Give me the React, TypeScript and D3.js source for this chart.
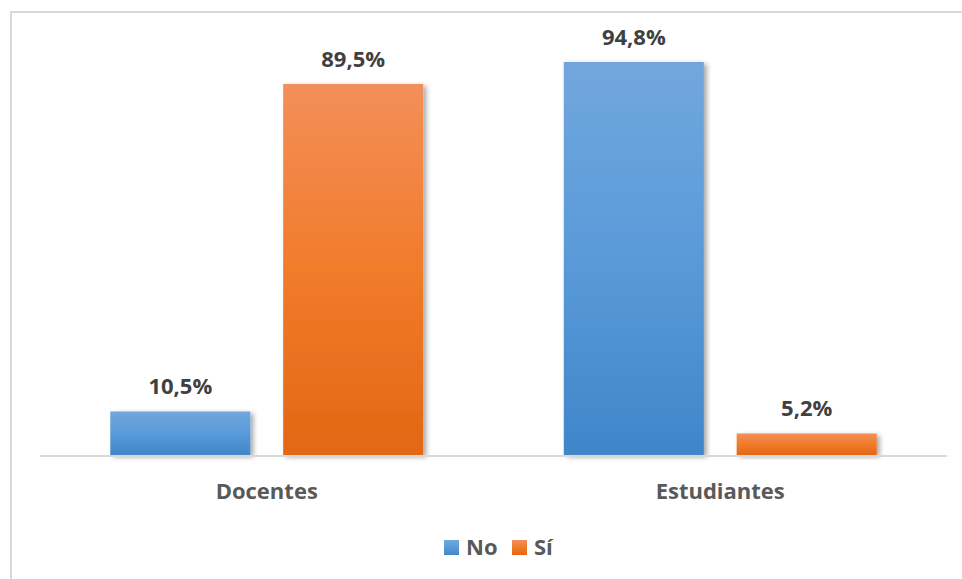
import React from "react";
import * as d3 from "d3";

const categories = ["Docentes", "Estudiantes"];
const seriesNames = ["No", "Sí"];
const noValues = [10.5, 94.8];
const siValues = [89.5, 5.2];
const valueLabels = [["10,5%", "89,5%"], ["94,8%", "5,2%"]];

const W = 962;
const H = 579;
const FONT = "'Open Sans', sans-serif";

export default function App() {
  const x0 = d3.scaleBand<string>().domain(categories).range([40, 947]).paddingInner(0.31).paddingOuter(0.155);
  const x1 = d3.scaleBand<string>().domain(seriesNames).range([0, x0.bandwidth()]).paddingInner(0.19);
  const y = d3.scaleLinear().domain([0, 100]).range([455, 40.4]);
  const series = [noValues, siValues];
  const grads = ["gBlue", "gOrange"];

  return (
    <svg width={W} height={H} style={{ position: "absolute", left: 0, top: 0 }}>
      <defs>
        <linearGradient id="gBlue" x1="0" y1="0" x2="0" y2="1">
          <stop offset="0" stopColor="#71a7dd" />
          <stop offset="0.5" stopColor="#5a9ad9" />
          <stop offset="1" stopColor="#3f86c9" />
        </linearGradient>
        <linearGradient id="gOrange" x1="0" y1="0" x2="0" y2="1">
          <stop offset="0" stopColor="#f38f59" />
          <stop offset="0.5" stopColor="#f17b2b" />
          <stop offset="1" stopColor="#e36714" />
        </linearGradient>
        <filter id="shadow" x="-10%" y="-10%" width="130%" height="130%">
          <feDropShadow dx="3" dy="2" stdDeviation="2.5" floodColor="#000" floodOpacity="0.35" />
        </filter>
      </defs>
      <rect x={0} y={0} width={W} height={H} fill="#fff" />
      <rect x={11} y={12} width={W + 10} height={H + 10} fill="none" stroke="#d9d9d9" strokeWidth={2} />
      {categories.map((c, ci) =>
        seriesNames.map((s, si) => {
          const v = series[si][ci];
          const bx = (x0(c) as number) + (x1(s) as number);
          const bw = x1.bandwidth();
          return (
            <g key={c + s}>
              <rect x={bx} y={y(v)} width={bw} height={y(0) - y(v)} fill={`url(#${grads[si]})`} filter="url(#shadow)" />
              <text
                x={bx + bw / 2}
                y={y(v) - 17}
                textAnchor="middle"
                fontFamily={FONT}
                fontWeight="bold"
                fontSize={22}
                fill="#404040"
              >
                {valueLabels[ci][si]}
              </text>
            </g>
          );
        })
      )}
      <line x1={40} x2={947} y1={y(0) + 1} y2={y(0) + 1} stroke="#d9d9d9" strokeWidth={2} />
      {categories.map((c) => (
        <text
          key={c}
          x={(x0(c) as number) + x0.bandwidth() / 2}
          y={499}
          textAnchor="middle"
          fontFamily={FONT}
          fontWeight="bold"
          fontSize={22}
          fill="#595959"
        >
          {c}
        </text>
      ))}
      {seriesNames.map((s, i) => {
        const lx = i === 0 ? 444 : 512;
        return (
          <g key={s}>
            <rect x={lx} y={540} width={15} height={15} fill={`url(#${grads[i]})`} />
            <text x={lx + 22} y={555} fontFamily={FONT} fontWeight="bold" fontSize={22} fill="#595959">
              {s}
            </text>
          </g>
        );
      })}
    </svg>
  );
}
